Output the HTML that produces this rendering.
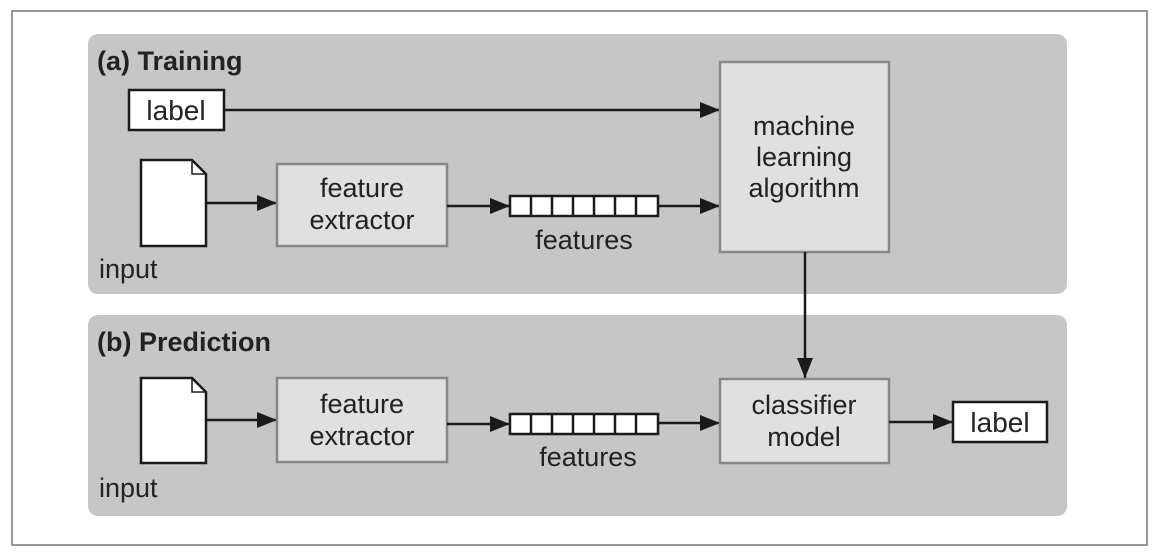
<!DOCTYPE html>
<html><head><meta charset="utf-8"><style>
html,body{margin:0;padding:0;background:#fff;}
svg{display:block;}
text{font-family:"Liberation Sans",sans-serif;fill:#222;}
</style></head><body>
<svg width="1160" height="554" viewBox="0 0 1160 554" xmlns="http://www.w3.org/2000/svg">
<defs>
<marker id="a2" viewBox="0 0 20 16" markerWidth="20" markerHeight="16" refX="20" refY="8" orient="auto" markerUnits="userSpaceOnUse">
<path d="M0,0 L20,8 L0,16 z" fill="#1a1a1a"/></marker>
</defs>
<rect x="12" y="11" width="1135" height="534" fill="#fff" stroke="#777" stroke-width="1.5"/>
<rect x="88" y="34" width="979" height="260" rx="10" fill="#c6c6c6"/>
<rect x="88" y="315" width="979" height="201" rx="10" fill="#c6c6c6"/>
<text x="97" y="70" font-size="27" font-weight="bold">(a) Training</text>
<text x="97" y="351" font-size="27" font-weight="bold">(b) Prediction</text>

<!-- training -->
<rect x="129" y="90" width="95" height="40" fill="#fff" stroke="#1a1a1a" stroke-width="2.5"/>
<text x="176" y="120" font-size="28" text-anchor="middle">label</text>
<line x1="224" y1="110" x2="720" y2="110" stroke="#1a1a1a" stroke-width="2.5" marker-end="url(#a2)"/>
<path d="M141,160 H192 L206,174 V246 H141 Z" fill="#fff" stroke="#1a1a1a" stroke-width="2.5"/>
<path d="M192,160 V174 H206" fill="none" stroke="#1a1a1a" stroke-width="1.5"/>
<text x="99" y="278" font-size="27">input</text>
<line x1="206" y1="203" x2="277" y2="203" stroke="#1a1a1a" stroke-width="2.5" marker-end="url(#a2)"/>
<rect x="277" y="164" width="170" height="82" fill="#e0e0e0" stroke="#888" stroke-width="2.5"/>
<text x="362" y="197" font-size="27" text-anchor="middle">feature</text>
<text x="362" y="229" font-size="27" text-anchor="middle">extractor</text>
<line x1="447" y1="206" x2="510" y2="206" stroke="#1a1a1a" stroke-width="2.5" marker-end="url(#a2)"/>
<g stroke="#1a1a1a" stroke-width="2.5" fill="#fff">
<rect x="510" y="196" width="148" height="20"/>
<path d="M531,196V216M552,196V216M573,196V216M594,196V216M615,196V216M636,196V216"/>
</g>
<text x="584" y="249" font-size="27" text-anchor="middle">features</text>
<line x1="658" y1="206" x2="720" y2="206" stroke="#1a1a1a" stroke-width="2.5" marker-end="url(#a2)"/>
<rect x="720" y="62" width="169" height="190" fill="#e0e0e0" stroke="#888" stroke-width="2.5"/>
<text x="804" y="135" font-size="27" text-anchor="middle">machine</text>
<text x="804" y="166" font-size="27" text-anchor="middle">learning</text>
<text x="804" y="197" font-size="27" text-anchor="middle">algorithm</text>
<line x1="805" y1="252" x2="805" y2="378" stroke="#1a1a1a" stroke-width="2.5" marker-end="url(#a2)"/>

<!-- prediction -->
<path d="M141,378 H192 L206,392 V463 H141 Z" fill="#fff" stroke="#1a1a1a" stroke-width="2.5"/>
<path d="M192,378 V392 H206" fill="none" stroke="#1a1a1a" stroke-width="1.5"/>
<text x="99" y="497" font-size="27">input</text>
<line x1="206" y1="420" x2="277" y2="420" stroke="#1a1a1a" stroke-width="2.5" marker-end="url(#a2)"/>
<rect x="277" y="378" width="170" height="84" fill="#e0e0e0" stroke="#888" stroke-width="2.5"/>
<text x="362" y="413" font-size="27" text-anchor="middle">feature</text>
<text x="362" y="445" font-size="27" text-anchor="middle">extractor</text>
<line x1="447" y1="424" x2="510" y2="424" stroke="#1a1a1a" stroke-width="2.5" marker-end="url(#a2)"/>
<g stroke="#1a1a1a" stroke-width="2.5" fill="#fff">
<rect x="510" y="414" width="148" height="20"/>
<path d="M531,414V434M552,414V434M573,414V434M594,414V434M615,414V434M636,414V434"/>
</g>
<text x="588" y="466" font-size="27" text-anchor="middle">features</text>
<line x1="658" y1="423" x2="720" y2="423" stroke="#1a1a1a" stroke-width="2.5" marker-end="url(#a2)"/>
<rect x="720" y="379" width="169" height="84" fill="#e0e0e0" stroke="#888" stroke-width="2.5"/>
<text x="804" y="414" font-size="27" text-anchor="middle">classifier</text>
<text x="804" y="446" font-size="27" text-anchor="middle">model</text>
<line x1="889" y1="422" x2="953" y2="422" stroke="#1a1a1a" stroke-width="2.5" marker-end="url(#a2)"/>
<rect x="953" y="402" width="94" height="40" fill="#fff" stroke="#1a1a1a" stroke-width="2.5"/>
<text x="1000" y="432" font-size="28" text-anchor="middle">label</text>
</svg>
</body></html>
